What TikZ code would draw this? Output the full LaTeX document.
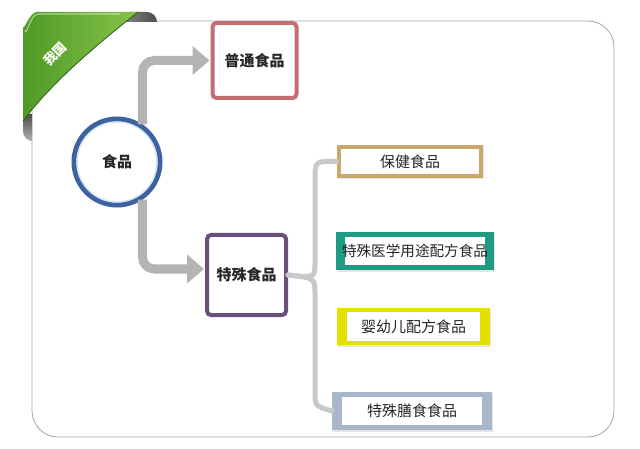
\documentclass[tikz,border=0pt]{standalone}
\usepackage{fontspec}
\setmainfont{Noto Sans CJK SC}
\usetikzlibrary{arrows.meta,shadows,calc}
\definecolor{redc}{HTML}{C46E72}
\definecolor{purp}{HTML}{6A4E7C}
\definecolor{bluec}{HTML}{3C62A0}
\definecolor{glowc}{HTML}{D3E3F3}
\definecolor{goldc}{HTML}{C9A86A}
\definecolor{tealc}{HTML}{1E9B82}
\definecolor{yelc}{HTML}{E4E000}
\definecolor{grayb}{HTML}{A9B7CB}
\definecolor{arrowc}{HTML}{B4B4B4}
\definecolor{bracec}{HTML}{C9C9C9}
\definecolor{greenc}{HTML}{4F9B26}
\definecolor{greenl}{HTML}{86C24A}
\tikzset{
  txt/.style={font=\fontsize{15}{18}\selectfont, text=black!85},
  circ/.style={circle, draw=bluec, line width=5pt, fill=white, minimum size=86pt, inner sep=0pt, txt,
    drop shadow={opacity=0.2, shadow xshift=1.5pt, shadow yshift=-2pt}},
  bigbox/.style={rectangle, rounded corners=4pt, line width=4pt, fill=white, inner sep=0pt, txt,
    drop shadow={opacity=0.25, shadow xshift=1.5pt, shadow yshift=-1.5pt}},
  barbox/.style n args={3}{rectangle, fill=#1, inner sep=0pt, txt,
    drop shadow={opacity=0.2, shadow xshift=1pt, shadow yshift=-1.5pt},
    path picture={\fill[white] ([xshift=#2, yshift=#3]path picture bounding box.south west)
      rectangle ([xshift=-#2, yshift=-#3]path picture bounding box.north east);}},
  garrow/.style={draw=arrowc, line width=9pt, rounded corners=12pt,
    -{Triangle[width=28pt, length=17pt]}, shorten >=1pt},
  bracel/.style={draw=bracec, line width=5pt, line cap=round},
  panel/.style={draw=black!35, line width=0.8pt, fill=white}
}
\begin{document}
\begin{tikzpicture}[x=1pt,y=-1pt]
\useasboundingbox (0,0) rectangle (640,449);
\fill[white] (0,0) rectangle (640,449);
% panel
\draw[panel, rounded corners=26pt] (32,437) -- (32,21) -- (614,21) -- (614,437) -- cycle;
% ribbon folds
\shade[left color=black!45, right color=black!70] (126,12) -- (147,12) to[out=0,in=90] (157,22) -- (118,22) -- cycle;
\shade[top color=black!70, bottom color=black!30] (23,114) -- (32,114) -- (32,141) to[out=180,in=-90] (23,130) -- cycle;
% green ribbon
\shade[left color=greenc, right color=greenl]
  (23,121) -- (23,26) to[out=-90,in=180] (37,12) -- (138,12) .. controls (90,50) and (50,85) .. cycle;
\draw[greenc!60!black, line width=0.8pt] (138,12) .. controls (90,50) and (50,85) .. (23,121);
\draw[white, opacity=0.5, line width=1.2pt] (25,30) to[out=-90+10,in=180] (38,14) -- (120,14);
\node[rotate=45, text=white, font=\fontsize{13}{15}\selectfont\bfseries] (cn) at (55,54) {我国};
% main nodes
\node[circ] (food) at (117,162) {\bfseries 食品};
\draw[glowc, line width=1.5pt] (food.center) circle[radius=40pt];
\node[bigbox, draw=redc, minimum width=84pt, minimum height=75pt] (normal) at (254.5,60.5) {\bfseries 普通食品};
\node[bigbox, draw=purp, minimum width=79pt, minimum height=80pt] (special) at (246.5,275) {\bfseries 特殊食品};
% sub boxes
\node[barbox={goldc}{4pt}{4pt}, minimum width=146pt, minimum height=33pt] (health) at (410,161.5) {保健食品};
\node[barbox={tealc}{9pt}{5pt}, minimum width=158pt, minimum height=38pt, font=\fontsize{14.6}{17}\selectfont] (med) at (415,251) {特殊医学用途配方食品};
\node[barbox={yelc}{10pt}{4pt}, minimum width=153pt, minimum height=37pt] (infant) at (413.5,326.5) {婴幼儿配方食品};
\node[barbox={grayb}{10pt}{5pt}, minimum width=160pt, minimum height=38pt] (diet) at (412,411) {特殊膳食食品};
% arrows
\draw[garrow] (food.56) |- (normal.west);
\draw[garrow] (food.-56) |- ([yshift=6pt]special.west);
% brace
\draw[bracel] (health.west) .. controls (315,161) .. (315,180) -- (315,262) .. controls (315,278) .. (special.east);
\draw[bracel] (special.east) .. controls (315,278) .. (315,294) -- (315,392) .. controls (315,406) .. (diet.west);
\end{tikzpicture}
\end{document}
